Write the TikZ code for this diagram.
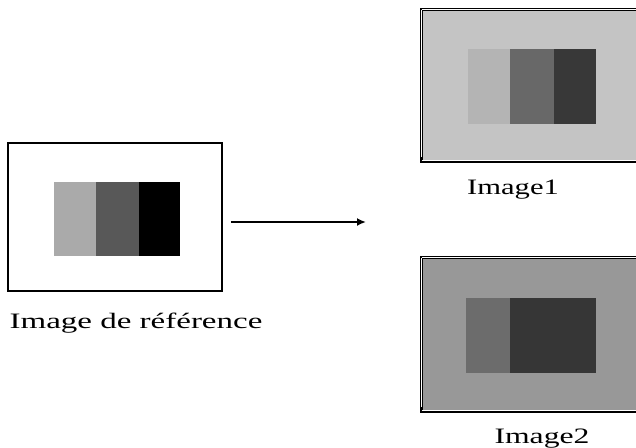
\documentclass[tikz,border=0pt]{standalone}
\usepackage{fontspec}
\usepackage{graphicx}
\setmainfont{Liberation Serif}
\usetikzlibrary{arrows.meta}
\definecolor{refA}{HTML}{AAAAAA}
\definecolor{refB}{HTML}{585858}
\definecolor{imA}{HTML}{C4C4C4}
\definecolor{imAa}{HTML}{B4B4B4}
\definecolor{imAb}{HTML}{686868}
\definecolor{imAc}{HTML}{383838}
\definecolor{imB}{HTML}{989898}
\definecolor{imBa}{HTML}{6C6C6C}
\definecolor{imBb}{HTML}{363636}
\tikzset{
  bar/.style={inner sep=0pt, outer sep=0pt, minimum height=#1},
  frame/.style={draw=black, line width=1.5pt, inner sep=0pt, fill=white},
  photo/.style={draw=black, line width=3pt, inner sep=0pt},
  captxt/.style={font=\fontsize{22}{26}\selectfont, inner sep=0pt, anchor=base},
  link/.style={line width=2pt, -{Latex[length=9pt,width=8pt]}}
}
\begin{document}
\begin{tikzpicture}[x=1pt,y=-1pt]
\useasboundingbox (0,0) rectangle (636,447);
\fill[white] (0,0) rectangle (636,447);
% reference image
\node[frame, minimum width=214pt, minimum height=148pt] (ref) at (115,217) {};
\node[bar=74pt, fill=refA, minimum width=42pt] (r1) at (75,219) {};
\node[bar=74pt, fill=refB, minimum width=43pt] (r2) at (117.5,219) {};
\node[bar=74pt, fill=black, minimum width=41pt] (r3) at (159.5,219) {};
\node[captxt] (tref) at (136,328) {\scalebox{1.5}[1]{Image de référence}};
% image 1
\node[photo, fill=imA, minimum width=220pt, minimum height=152pt] (im1) at (531,85) {};
\draw[white, line width=0.7pt] (im1.north west) ++(2.2,2.2) -- ++(0,147.6);
\draw[white, line width=0.7pt] (im1.north west) ++(2.2,2.2) -- ++(220,0);
\draw[white, line width=0.7pt] (im1.south west) ++(2.2,-2.2) -- ++(220,0);
\node[bar=75pt, fill=imAa, minimum width=42pt] (a1) at (489,86.5) {};
\node[bar=75pt, fill=imAb, minimum width=44pt] (a2) at (532,86.5) {};
\node[bar=75pt, fill=imAc, minimum width=42pt] (a3) at (575,86.5) {};
\node[captxt] (t1) at (513,194) {\scalebox{1.39}[1]{Image1}};
% image 2
\node[photo, fill=imB, minimum width=220pt, minimum height=154pt] (im2) at (531,334) {};
\draw[white, line width=0.7pt] (im2.north west) ++(2.2,2.2) -- ++(0,149.6);
\draw[white, line width=0.7pt] (im2.north west) ++(2.2,2.2) -- ++(220,0);
\draw[white, line width=0.7pt] (im2.south west) ++(2.2,-2.2) -- ++(220,0);
\node[bar=75pt, fill=imBa, minimum width=44pt] (b1) at (488,335.5) {};
\node[bar=75pt, fill=imBb, minimum width=86pt] (b2) at (553,335.5) {};
\node[captxt] (t2) at (542,443) {\scalebox{1.44}[1]{Image2}};
% arrow
\coordinate (tip) at (366,222);
\draw[link] ([xshift=8pt]ref.east |- tip) -- (tip);
\end{tikzpicture}
\end{document}
